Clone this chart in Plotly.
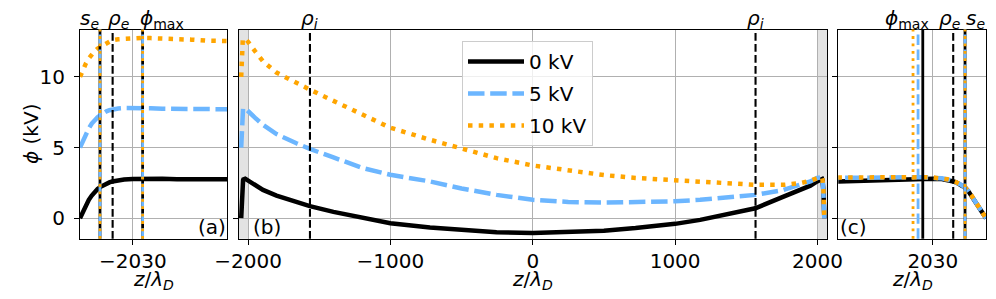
import plotly.graph_objects as go

# ------------------------------------------------------------------ data
z_grid = [-2048, -2047, -2046, -2045, -2044, -2043, -2042, -2041, -2040, -2039,
          -2038, -2037, -2035, -2033, -2030, -2027, -2024, -2020, -2015, -2010,
          -2005, -1998, -1950, -1895, -1800, -1660, -1566, -1400, -1192, -1000,
          -722, -500, -254, 0, 250, 500, 722, 1000, 1176, 1400, 1564, 1762, 1880,
          1950, 1998, 2005, 2010, 2015, 2020, 2024, 2027, 2030, 2033, 2035, 2037,
          2038, 2039, 2040, 2041, 2042, 2043, 2044, 2045, 2046, 2047, 2048]

phi_0kV = [0.0, 0.5, 0.95, 1.3, 1.6, 1.88, 2.07, 2.22, 2.35, 2.45,
           2.53, 2.6, 2.68, 2.74, 2.78, 2.8, 2.8, 2.79, 2.76, 2.73,
           2.69, 2.64, 2.35, 2.0, 1.6, 1.18, 0.85, 0.45, 0.0, -0.35,
           -0.65, -0.85, -1.0, -1.05, -1.0, -0.88, -0.7, -0.4, -0.12, 0.35, 0.7, 1.53, 2.0,
           2.3, 2.6, 2.65, 2.68, 2.72, 2.76, 2.78, 2.8, 2.8, 2.77, 2.72, 2.6,
           2.52, 2.42, 2.3, 2.15, 1.92, 1.62, 1.3, 0.98, 0.66, 0.33, 0.0]

phi_5kV = [5.0, 5.5, 5.95, 6.35, 6.7, 6.95, 7.15, 7.3, 7.45, 7.56,
           7.64, 7.7, 7.76, 7.79, 7.8, 7.8, 7.78, 7.75, 7.72, 7.68,
           7.62, 7.55, 7.1, 6.6, 5.95, 5.3, 4.9, 4.3, 3.54, 3.07,
           2.6, 2.1, 1.65, 1.3, 1.15, 1.1, 1.12, 1.2, 1.3, 1.5, 1.65, 2.0, 2.36,
           2.6, 2.85, 2.88, 2.9, 2.9, 2.9, 2.9, 2.89, 2.87, 2.82, 2.74, 2.62,
           2.53, 2.43, 2.31, 2.15, 1.92, 1.62, 1.3, 0.98, 0.66, 0.33, 0.0]

phi_10kV = [10.0, 10.55, 10.95, 11.3, 11.6, 11.82, 12.0, 12.12, 12.3, 12.45,
            12.53, 12.6, 12.66, 12.7, 12.73, 12.75, 12.74, 12.72, 12.68, 12.63,
            12.56, 12.46, 11.8, 11.1, 10.3, 9.56, 9.1, 8.3, 7.3, 6.4,
            5.55, 4.95, 4.25, 3.73, 3.35, 3.05, 2.85, 2.7, 2.6, 2.45, 2.36, 2.36, 2.48,
            2.65, 2.88, 2.9, 2.9, 2.9, 2.9, 2.9, 2.9, 2.88, 2.83, 2.75, 2.63,
            2.54, 2.44, 2.32, 2.16, 1.93, 1.63, 1.31, 0.99, 0.67, 0.34, 0.0]

series_names = ["0 kV", "5 kV", "10 kV"]
series_phi = [phi_0kV, phi_5kV, phi_10kV]

# characteristic positions (z / lambda_D)
s_e_left = -2041.2
rho_e_left = -2036.9
phi_max_left = [-2026.7, -2026.7, -2026.7]
phi_max_right = [2026.6, 2025.0, 2023.3]
rho_e_right = 2036.9
s_e_right = 2040.9
rho_i = [-1565, 1565]

# axis ranges / ticks
xrange_a = [-2048, -1998]
xrange_b = [-2067, 2067]
xrange_c = [1998, 2048]
yrange = [-1.45, 13.35]
band_left = [-2067, -1998]
band_right = [1998, 2067]

xticks_a = [-2030]
xticklabels_a = ["\u22122030"]
xticks_b = [-2000, -1000, 0, 1000, 2000]
xticklabels_b = ["\u22122000", "\u22121000", "0", "1000", "2000"]
xticks_c = [2030]
xticklabels_c = ["2030"]
yticks = [0, 5, 10]
yticklabels = ["0", "5", "10"]

# top labels (x in data units of each panel)
top_a = [(-2044.9, "<i>s<sub>e</sub></i>"), (-2034.9, "<i>ρ<sub>e</sub></i>"),
         (-2020.1, "<i>ϕ</i><sub>max</sub>")]
top_c = [(2021.4, "<i>ϕ</i><sub>max</sub>"), (2035.8, "<i>ρ<sub>e</sub></i>"),
         (2044.4, "<i>s<sub>e</sub></i>")]

# ------------------------------------------------------------------ style
FONT = "DejaVu Sans"
W, H = 996, 299
OFF = 8  # page body margin of the html page
colors = ["black", "#6cb6ff", "#ffa500"]
curve_dash = ["solid", "16.5px,5.7px", "4.5px,6.2px"]
vline_dash = ["solid", "10.4px,4.5px", "2.8px,4.6px"]
CURVE_W = 4.5
VLINE_W = 2.8


def px_x(p):
    return (p - OFF) / W


def px_y(p):
    return 1 - (p - OFF) / H


fig = go.Figure()

axes = [("x", "y", xrange_a), ("x2", "y2", xrange_b), ("x3", "y3", xrange_c)]
for (xa, ya, _), panel in zip(axes, ["a", "b", "c"]):
    for i, (name, phi) in enumerate(zip(series_names, series_phi)):
        fig.add_trace(go.Scatter(
            x=z_grid, y=phi, mode="lines", name=name,
            line=dict(color=colors[i], width=CURVE_W, dash=curve_dash[i]),
            xaxis=xa, yaxis=ya, showlegend=(panel == "b"),
            legendgroup=name, hoverinfo="skip"))

shapes = []
for band in (band_left, band_right):
    shapes.append(dict(type="rect", xref="x2", yref="y2 domain", x0=band[0], x1=band[1],
                       y0=0, y1=1, fillcolor="rgba(128,128,128,0.22)", line=dict(width=0),
                       layer="below"))


def vline(xref, x, color, dash, width):
    return dict(type="line", xref=xref, yref=xref.replace("x", "y") + " domain",
                x0=x, x1=x, y0=0, y1=1, line=dict(color=color, dash=dash, width=width),
                layer="above")


for i in range(3):
    shapes.append(vline("x", s_e_left, colors[i], vline_dash[i], VLINE_W))
shapes.append(vline("x", rho_e_left, "black", "7.7px,3.3px", 2.1))
for i in range(3):
    shapes.append(vline("x", phi_max_left[i], colors[i], vline_dash[i], VLINE_W))
for r in rho_i:
    shapes.append(vline("x2", r, "black", "7.7px,3.3px", 2.1))
for i in range(3):
    shapes.append(vline("x3", phi_max_right[i], colors[i], vline_dash[i], VLINE_W))
shapes.append(vline("x3", rho_e_right, "black", "7.7px,3.3px", 2.1))
for i in range(3):
    shapes.append(vline("x3", s_e_right, colors[i], vline_dash[i], VLINE_W))

ydom = [px_y(238.7), px_y(29.5)]
xdoms = [[px_x(80), px_x(227)], [px_x(238.5), px_x(827)], [px_x(838.3), px_x(986)]]

axis_common = dict(showline=True, linecolor="black", linewidth=1, mirror=True,
                   ticks="outside", ticklen=5, tickwidth=1, tickcolor="black",
                   showgrid=True, gridcolor="#b0b0b0", gridwidth=1, zeroline=False,
                   automargin=False,
                   tickfont=dict(family=FONT, size=20, color="black"))

layout = dict(
    width=W, height=H, margin=dict(l=0, r=0, t=0, b=0, pad=0, autoexpand=False),
    paper_bgcolor="white", plot_bgcolor="white",
    font=dict(family=FONT, size=20, color="black"),
    shapes=shapes,
    showlegend=True,
    legend=dict(x=px_x(462), y=px_y(41), xanchor="left", yanchor="top",
                bgcolor="rgba(255,255,255,0.8)", bordercolor="#cccccc", borderwidth=1,
                font=dict(family=FONT, size=20, color="black"), tracegroupgap=3,
                itemwidth=56),
)
xt = [(xticks_a, xticklabels_a), (xticks_b, xticklabels_b), (xticks_c, xticklabels_c)]
for k, ((xa, ya, rng), dom, (tv, tt)) in enumerate(zip(axes, xdoms, xt)):
    kx = "xaxis" if k == 0 else f"xaxis{k+1}"
    ky = "yaxis" if k == 0 else f"yaxis{k+1}"
    layout[kx] = dict(axis_common, domain=dom, range=rng, anchor=ya,
                      tickvals=tv, ticktext=tt, ticklabelstandoff=-1)
    layout[ky] = dict(axis_common, domain=ydom, range=yrange, anchor=xa,
                      tickvals=yticks, ticktext=yticklabels,
                      showticklabels=(k == 0), ticklabelstandoff=5)

ann = []
txt_font = dict(family=FONT, size=20, color="black")
ann.append(dict(text="<i>ϕ</i> (kV)", xref="paper", yref="paper", x=px_x(31), y=px_y(134),
                textangle=-90, showarrow=False, font=txt_font, xanchor="center", yanchor="middle"))
for dom in xdoms:
    ann.append(dict(text="<i>z</i>/<i>λ<sub>D</sub></i>", xref="paper", yref="paper",
                    x=(dom[0] + dom[1]) / 2, y=px_y(280), showarrow=False, font=txt_font,
                    xanchor="center", yanchor="middle"))
for tag, xp in (("(a)", 211.7), ("(b)", 266.7), ("(c)", 853)):
    ann.append(dict(text=tag, xref="paper", yref="paper", x=px_x(xp), y=px_y(227),
                    showarrow=False, font=txt_font, xanchor="center", yanchor="middle"))
top_y = px_y(34)
for xv, t in top_a:
    ann.append(dict(text=t, xref="x", yref="paper", x=xv, y=top_y, showarrow=False,
                    font=txt_font, xanchor="center", yanchor="bottom"))
for xv, t in top_c:
    ann.append(dict(text=t, xref="x3", yref="paper", x=xv, y=top_y, showarrow=False,
                    font=txt_font, xanchor="center", yanchor="bottom"))
for r in rho_i:
    ann.append(dict(text="<i>ρ<sub>i</sub></i>", xref="x2", yref="paper", x=r, y=top_y,
                    showarrow=False, font=txt_font, xanchor="center", yanchor="bottom"))
layout["annotations"] = ann

fig.update_layout(**layout)
fig.write_html("out.html")
